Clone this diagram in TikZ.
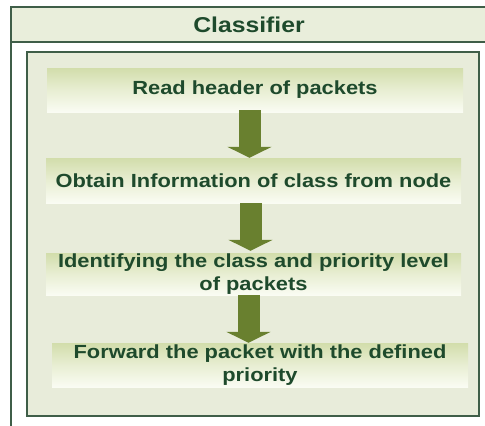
\documentclass[tikz,border=0pt]{standalone}
\usepackage{fontspec}
\setmainfont[FakeStretch=1.15]{Liberation Sans}
\usetikzlibrary{arrows.meta,calc}
\definecolor{framec}{HTML}{3F5E48}
\definecolor{titlefill}{HTML}{E9EEDB}
\definecolor{innerfill}{HTML}{E8ECDA}
\definecolor{stepTop}{HTML}{D2DDAB}
\definecolor{stepBot}{HTML}{FAFCF3}
\definecolor{arrowc}{HTML}{69802F}
\definecolor{txtc}{HTML}{1E4A2C}
\tikzset{
  stepbox/.style={rectangle, inner sep=0pt, top color=stepTop, bottom color=stepBot,
    middle color=stepTop!45!stepBot, draw=none, text=txtc, align=center,
    font=\bfseries\fontsize{19}{23}\selectfont},
  flowarrow/.style={draw=arrowc, line width=22pt,
    -{Triangle[width=44pt,length=11pt]}, shorten <=0pt},
}
\begin{document}
\begin{tikzpicture}[x=1pt,y=-1pt]
\useasboundingbox (0,0) rectangle (485,426);
\fill[white] (0,0) rectangle (485,426);
% outer frame and title bar
\fill[titlefill] (11,7) rectangle (486,42);
\draw[framec, line width=1.6pt] (486,7) -- (11,7) -- (11,428);
\draw[framec, line width=1.6pt] (11,42) -- (486,42);
\node[text=txtc, font=\bfseries\fontsize{21.5}{24}\selectfont] (title) at (249,25) {Classifier};
% inner box
\node[rectangle, draw=framec, line width=2pt, fill=innerfill, minimum width=452pt,
  minimum height=364pt, inner sep=0pt] (inner) at (253,234) {};
% steps
\node[stepbox, minimum width=416pt, minimum height=44pt] (s1) at (255,90) {Read header of packets};
\node[stepbox, minimum width=415pt, minimum height=45pt] (s2) at (253.5,180.5) {Obtain Information of class from node};
\node[stepbox, minimum width=415pt, minimum height=42pt] (s3) at (253.5,274) {Identifying the class and priority level\\of packets};
\node[stepbox, minimum width=416pt, minimum height=44pt] (s4) at (260,365) {Forward the packet with the defined\\priority};
% arrows
\draw[flowarrow] ([xshift=-5.5pt,yshift=2pt]s1.south) -- ([xshift=-5.5pt]s1.south |- s2.north);
\draw[flowarrow] ([xshift=-3pt]s2.south) -- ([xshift=-3pt,yshift=2pt]s2.south |- s3.north);
\draw[flowarrow] ([xshift=-5pt]s3.south) -- ([xshift=-5pt]s3.south |- s4.north);
\end{tikzpicture}
\end{document}
